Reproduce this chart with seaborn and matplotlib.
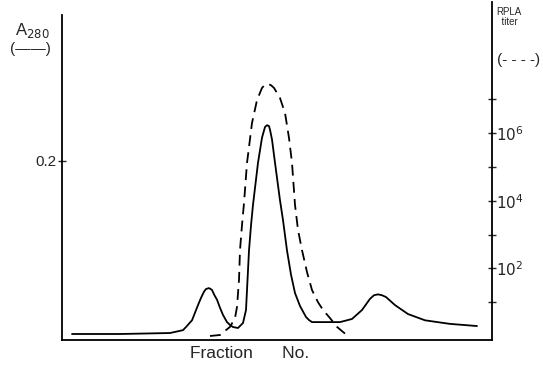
import numpy as np
import pandas as pd
import matplotlib
matplotlib.use("Agg")
import matplotlib.pyplot as plt
import seaborn as sns

# Solid line: absorbance at 280 nm
a280_fraction = [2, 11.6, 21.6, 24.2, 24.8, 26, 27.2, 27.8, 28.4, 28.8, 29.4, 30, 30.4,
                 31, 31.6, 32.2, 33, 33.6, 34.2, 35.2, 36.2, 36.8, 37.4, 37.8, 38.2,
                 39.2, 40, 40.4, 40.6, 41, 41.4, 41.6, 42, 42.6, 43.6, 44.2, 45, 45.8,
                 46.6, 47.6, 48.8, 49.4, 50, 52.6, 55.6, 58, 60, 61.6, 62.4, 63.2, 64,
                 64.8, 66.6, 69.2, 72.6, 77.6, 83]
a280_value = [0.0067, 0.0067, 0.0078, 0.011, 0.0145, 0.022, 0.039, 0.047, 0.054, 0.057,
              0.058, 0.056, 0.051, 0.045, 0.036, 0.028, 0.020, 0.0168, 0.0145, 0.0134,
              0.019, 0.0335, 0.1, 0.128, 0.151, 0.198, 0.226, 0.234, 0.238, 0.240,
              0.239, 0.235, 0.224, 0.198, 0.156, 0.134, 0.1, 0.073, 0.0525, 0.038,
              0.0257, 0.0223, 0.020, 0.020, 0.020, 0.0235, 0.0335, 0.046, 0.050,
              0.051, 0.050, 0.048, 0.039, 0.029, 0.022, 0.018, 0.0156]

# Dashed line: RPLA titer (log10)
rpla_fraction = [29.6, 31.6, 33.6, 34.6, 35, 35.4, 35.6, 36, 36.4, 37, 38, 39, 40, 40.6,
                 41.2, 41.8, 42.4, 43.6, 44.6, 45.4, 46, 46.6, 47.2, 48, 49, 50, 51.2,
                 52.2, 53.6, 55, 56.2, 57.2]
rpla_log10 = [0, 0.03, 0.27, 0.53, 0.86, 1.66, 2.54, 3.28, 3.93, 5.12, 6.30, 6.98, 7.34,
              7.43, 7.46, 7.42, 7.34, 7.04, 6.60, 5.86, 5.12, 3.88, 3.14, 2.54, 1.89,
              1.36, 1.0, 0.77, 0.53, 0.27, 0.12, 0]

left_ticks = [0.2]
left_tick_labels = ["0.2"]
right_major = [2, 4, 6]
right_minor = [1, 3, 5, 7]

sns.set_style("white")
plt.rcParams['font.family'] = ['Liberation Sans', 'DejaVu Sans']

df_a = pd.DataFrame({"fraction": a280_fraction, "A280": a280_value})
df_r = pd.DataFrame({"fraction": rpla_fraction,
                     "titer": [10.0 ** v for v in rpla_log10]})

fig = plt.figure(figsize=(5.43, 3.68), dpi=100)
W, H = 543, 368
ax = fig.add_axes([62 / W, (H - 340) / H, (492 - 62) / W, (340 - 2) / H])
ax2 = ax.twinx()

sns.lineplot(data=df_a, x="fraction", y="A280", ax=ax, color="black", lw=1.3,
             sort=False)
sns.lineplot(data=df_r, x="fraction", y="titer", ax=ax2, color="black", lw=1.3,
             sort=False, dashes=False)
ax.lines[0].set_solid_joinstyle("round")
ax2.lines[0].set_dashes([6, 3.5])

ax.set_xlim(0, 86)
ax.set_ylim(0, (340 - 2) / 895)
ax2.set_yscale("log")
ax2.set_ylim(10 ** (-4 / 33.8), 10 ** (334 / 33.8))

for a in (ax, ax2):
    a.set_xlabel("")
    a.set_ylabel("")
    a.set_xticks([])
    a.spines['top'].set_visible(False)
    for s in a.spines.values():
        s.set_color("black")
        s.set_linewidth(1.3)

ax.spines['right'].set_visible(False)
ax.spines['left'].set_bounds(0, (340 - 15) / 895)
ax2.spines['left'].set_visible(False)
ax2.spines['bottom'].set_visible(False)

ax.set_yticks(left_ticks)
ax.set_yticklabels(left_tick_labels)
ax.tick_params(axis='y', direction='inout', length=6, width=1, labelsize=11,
               pad=1, left=True)

ax2.set_yticks([10.0 ** v for v in right_major])
ax2.set_yticklabels(["$10^{%d}$" % v for v in right_major])
ax2.set_yticks([10.0 ** v for v in right_minor], minor=True)
ax2.yaxis.set_minor_formatter(matplotlib.ticker.NullFormatter())
ax2.tick_params(axis='y', which='both', direction='inout', length=6, width=1,
                labelsize=11, pad=0, right=True)

fig.text(15 / W, 1 - 31 / H, "A$_{280}$", fontsize=12, ha="left", va="center")
fig.text(10 / W, 1 - 49 / H, "(——)", fontsize=11, ha="left", va="center")
fig.text(496 / W, 1 - 17 / H, "RPLA\n  titer", fontsize=7, ha="left", va="center",
         linespacing=1.0)
fig.text(497 / W, 1 - 60 / H, "(- - - -)", fontsize=11, ha="left", va="center")
fig.text(250 / W, 1 - 354 / H, "Fraction      No.", fontsize=12.5, ha="center",
         va="center")

fig.savefig("out.png", dpi=100)
